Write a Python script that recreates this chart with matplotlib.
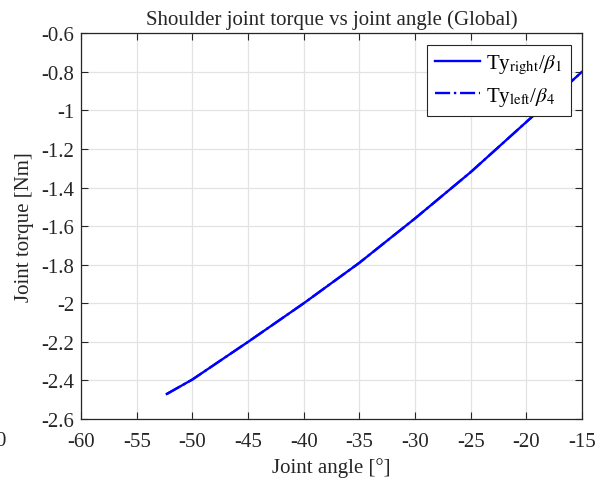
import matplotlib
matplotlib.use("Agg")
import matplotlib.pyplot as plt

plt.rcParams["font.family"] = ["Liberation Serif", "DejaVu Serif"]
plt.rcParams["mathtext.fontset"] = "stix"

# Shoulder torque samples over the joint angle range
angle_deg = [-52.3, -50, -45, -40, -35, -30, -25, -20, -15]
torque_right = [-2.47, -2.395, -2.20, -2.00, -1.79, -1.56, -1.32, -1.06, -0.80]
torque_left = [-2.47, -2.395, -2.20, -2.00, -1.79, -1.56, -1.32, -1.06, -0.80]

x_ticks = [-60, -55, -50, -45, -40, -35, -30, -25, -20, -15]
y_ticks = [-2.6, -2.4, -2.2, -2.0, -1.8, -1.6, -1.4, -1.2, -1.0, -0.8, -0.6]
y_tick_labels = ["-2.6", "-2.4", "-2.2", "-2", "-1.8", "-1.6", "-1.4", "-1.2", "-1", "-0.8", "-0.6"]
x_tick_labels = [str(v) for v in x_ticks]

FS = 15

fig = plt.figure(figsize=(6.05, 4.89), dpi=100)
ax = fig.add_axes([0.134, 0.141, 0.828, 0.789])

ax.plot(angle_deg, torque_right, color="#0000ff", lw=1.7, ls="-",
        label=r"Ty$_{\rm right}$/$\beta_1$")
ax.plot(angle_deg, torque_left, color="#0000ff", lw=1.7, ls="-.",
        label=r"Ty$_{\rm left}$/$\beta_4$")

ax.set_xlim(-60, -15)
ax.set_ylim(-2.6, -0.6)
ax.set_xticks(x_ticks)
ax.set_xticklabels(x_tick_labels)
ax.set_yticks(y_ticks)
ax.set_yticklabels(y_tick_labels)

ax.grid(True, color="#e3e3e3", lw=0.9)
ax.set_axisbelow(True)
for s in ax.spines.values():
    s.set_color("#262626")
    s.set_linewidth(0.9)
ax.tick_params(direction="in", length=5, width=0.8, color="#262626",
               labelsize=FS, labelcolor="#262626", top=True, right=True)
ax.tick_params(axis="x", pad=9)
ax.tick_params(axis="y", pad=5)

ax.set_title("Shoulder joint torque vs joint angle (Global)", fontsize=FS,
             color="#262626", pad=7)
ax.set_xlabel("Joint angle [°]", fontsize=FS, color="#262626", labelpad=5)
ax.set_ylabel("Joint torque [Nm]", fontsize=FS, color="#262626", labelpad=5)

leg = ax.legend(loc="upper right", fontsize=FS, frameon=True, fancybox=False,
                edgecolor="#262626", framealpha=1, handlelength=2.15,
                borderpad=0.4, labelspacing=0.4, handletextpad=0.3,
                borderaxespad=0.55)
leg.get_frame().set_linewidth(0.8)

# clipped tick label from the neighbouring panel at the left edge
fig.text(0.0, 1 - 442 / 489, "0", fontsize=FS, color="#262626", ha="center", va="center")

fig.savefig("out.png", dpi=100)
